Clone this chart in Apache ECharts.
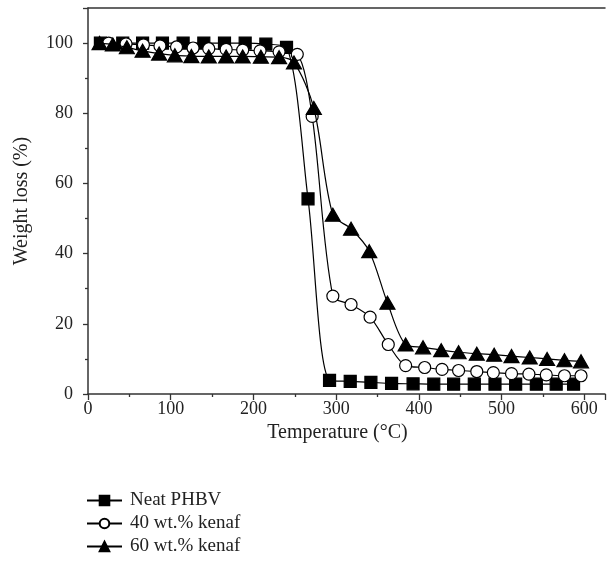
<!DOCTYPE html>
<html>
<head>
<meta charset="utf-8">
<script src="https://cdn.jsdelivr.net/npm/echarts@6/dist/echarts.min.js"></script>
<style>html,body{margin:0;padding:0;background:#fff}#c{width:608px;height:563px}</style>
</head>
<body>
<div id="c"></div>
<script>
var seriesNames = ["Neat PHBV", "40 wt.% kenaf", "60 wt.% kenaf"];
var tempNeat = [15, 42, 66, 90, 115, 140, 165, 190, 215, 240, 266, 292, 317, 342, 367, 393, 418, 442, 467, 492, 517, 542, 566, 587];
var wNeat    = [100, 100, 100, 100, 100, 100, 100, 100, 99.7, 98.8, 55.6, 3.9, 3.6, 3.3, 3.0, 2.9, 2.8, 2.8, 2.8, 2.8, 2.8, 2.8, 2.8, 2.8];
var temp40 = [25, 46, 67, 87, 107, 127, 146, 167, 187, 208, 231, 253, 271, 296, 318, 341, 363, 384, 407, 428, 448, 470, 490, 512, 533, 554, 576, 596];
var w40    = [100, 99.8, 99.5, 99.2, 98.9, 98.6, 98.4, 98.2, 98.0, 97.8, 97.5, 96.8, 79.1, 27.9, 25.5, 21.9, 14.1, 8.1, 7.55, 7.0, 6.7, 6.4, 6.1, 5.8, 5.65, 5.45, 5.2, 5.2];
var temp60 = [14, 30, 47, 66, 86, 105, 125, 146, 167, 187, 209, 231, 249, 273, 296, 318, 340, 362, 384, 405, 427, 448, 470, 491, 512, 534, 555, 576, 596];
var w60    = [100, 99.6, 98.8, 97.8, 97, 96.5, 96.3, 96.2, 96.2, 96.2, 96.1, 96, 94.5, 81.5, 51.1, 47.1, 40.7, 26, 14.1, 13.3, 12.5, 11.9, 11.5, 11.2, 10.8, 10.4, 10.0, 9.6, 9.3];
var xTicks = [0, 100, 200, 300, 400, 500, 600];
var yTicks = [0, 20, 40, 60, 80, 100];

function pairs(xs, ys) { return xs.map(function (x, i) { return [x, ys[i]]; }); }

var FONT = "Liberation Serif";
var AX = "#333";
var TXT = "#222";
var chart = echarts.init(document.getElementById("c"), null, {renderer: "canvas"});
var base = {
  type: "line", smooth: 0.3, xAxisIndex: 0, yAxisIndex: 0,
  lineStyle: {color: "#000", width: 1.2},
  itemStyle: {color: "#000", borderColor: "#000", borderWidth: 1.2},
  emphasis: {disabled: true}, animation: false
};
chart.setOption({
  animation: false,
  grid: {left: 88, right: 1, top: 8, bottom: 169, containLabel: false},
  legend: {
    orient: "vertical", left: 81, top: 486, itemWidth: 35, itemHeight: 12, itemGap: 4,
    textStyle: {fontFamily: FONT, fontSize: 19, color: TXT, padding: [0, 0, 0, 3]},
    data: seriesNames
  },
  xAxis: [{
    type: "value", min: 0, max: 625, interval: 100,
    name: "Temperature (°C)", nameLocation: "middle", nameGap: 18,
    nameTextStyle: {fontFamily: FONT, fontSize: 20, color: TXT, padding: [0, 18, 0, 0]},
    axisLine: {show: true, lineStyle: {color: AX, width: 1.5}},
    axisTick: {show: true, inside: false, length: 6, lineStyle: {color: AX, width: 1.3}},
    minorTick: {show: true, splitNumber: 2, length: 3, lineStyle: {color: AX, width: 1.3}},
    axisLabel: {fontFamily: FONT, fontSize: 18, color: TXT, margin: 6,
      formatter: function (v) { return xTicks.indexOf(v) >= 0 ? String(v) : ""; }},
    splitLine: {show: false}
  }, {
    type: "value", position: "top", min: 0, max: 625,
    axisLine: {show: true, onZero: false, lineStyle: {color: AX, width: 1.5}},
    axisTick: {show: false}, axisLabel: {show: false}, splitLine: {show: false}
  }],
  yAxis: {
    type: "value", min: 0, max: 110, interval: 20,
    name: "Weight loss (%)", nameLocation: "middle", nameGap: 56,
    nameTextStyle: {fontFamily: FONT, fontSize: 20, color: TXT},
    axisLine: {show: true, lineStyle: {color: AX, width: 1.5}},
    axisTick: {show: true, inside: false, length: 5, lineStyle: {color: AX, width: 1.3}},
    minorTick: {show: true, splitNumber: 2, length: 3, lineStyle: {color: AX, width: 1.3}},
    axisLabel: {fontFamily: FONT, fontSize: 18, color: TXT, margin: 15,
      formatter: function (v) { return yTicks.indexOf(v) >= 0 ? String(v) : ""; }},
    splitLine: {show: false}
  },
  series: [
    Object.assign({}, base, {name: seriesNames[0], data: pairs(tempNeat, wNeat), symbol: "rect", symbolSize: 12, z: 3}),
    Object.assign({}, base, {name: seriesNames[1], data: pairs(temp40, w40), symbol: "circle", symbolSize: 12, z: 4,
      itemStyle: {color: "#fff", borderColor: "#000", borderWidth: 1.2}}),
    Object.assign({}, base, {name: seriesNames[2], data: pairs(temp60, w60), symbol: "triangle", symbolSize: [15, 13], z: 5})
  ]
});
</script>
</body>
</html>
